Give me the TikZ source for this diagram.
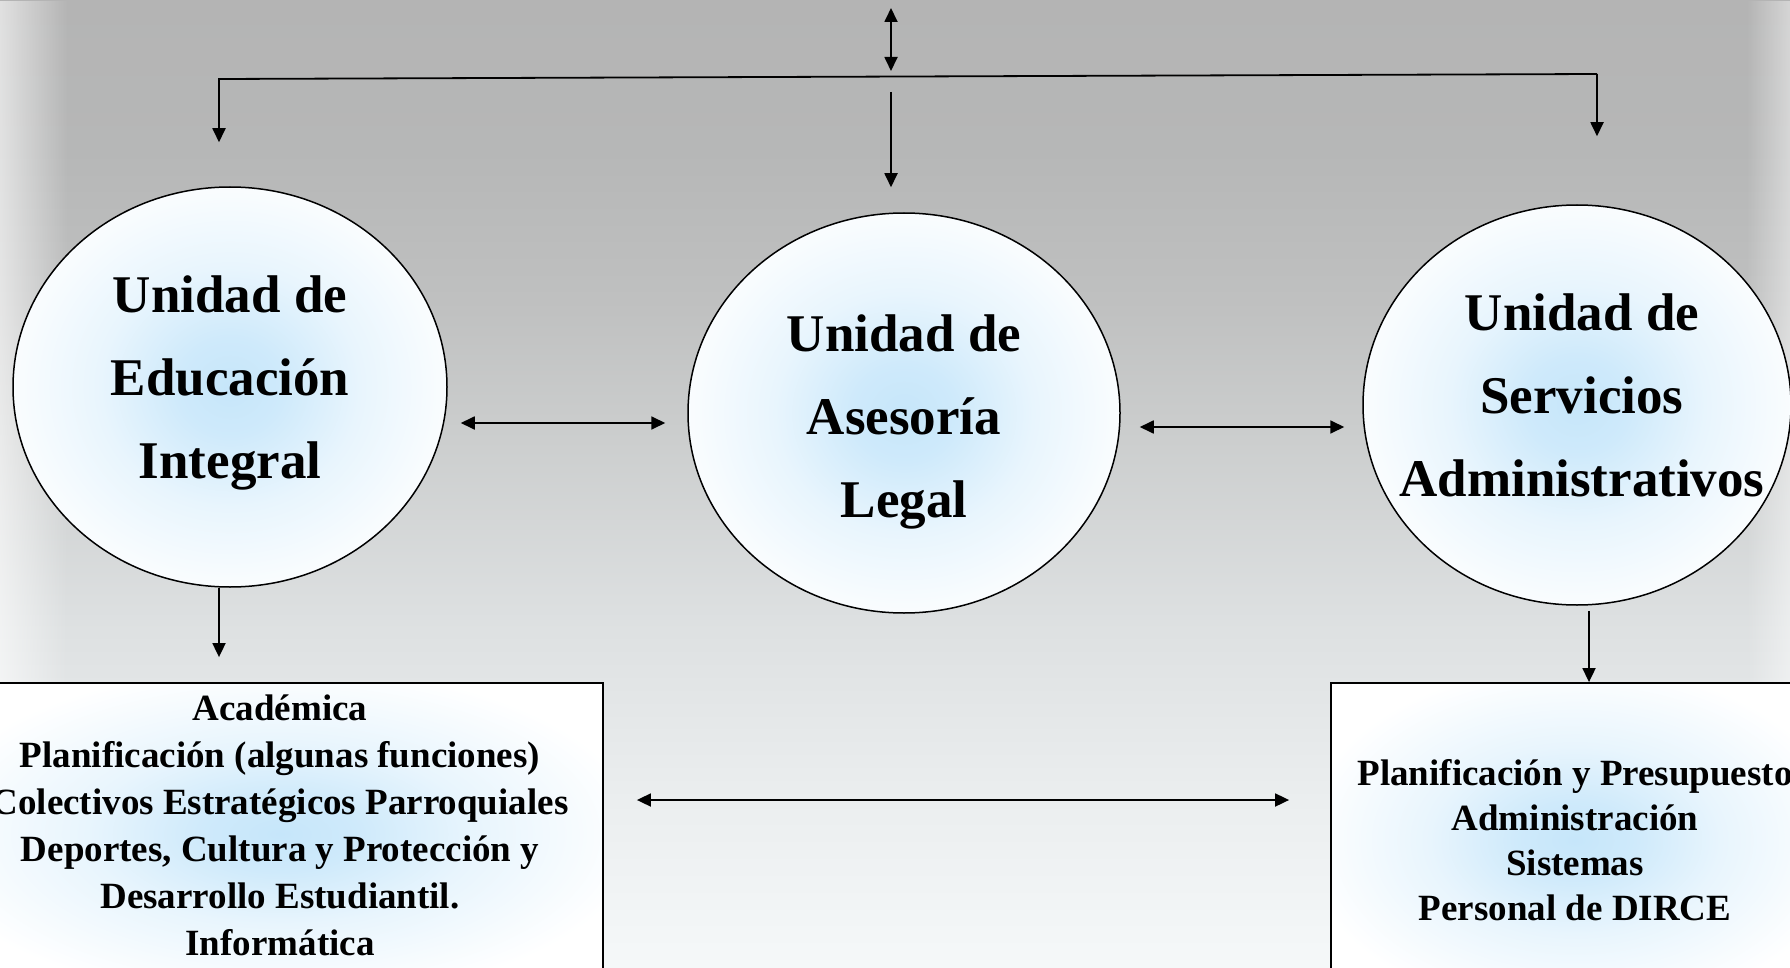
\documentclass[tikz,border=0pt]{standalone}
\usepackage{fontspec}
\setmainfont{Liberation Serif}
\usetikzlibrary{shapes.geometric,arrows.meta,fadings}
\definecolor{glow}{HTML}{C6E6FA}
\definecolor{bgA}{HTML}{B4B4B4}
\definecolor{bgB}{HTML}{B6B7B7}
\definecolor{bgC}{HTML}{BFC0C0}
\definecolor{bgD}{HTML}{CBCDCD}
\definecolor{bgE}{HTML}{DDE0E1}
\definecolor{bgF}{HTML}{EBEEEF}
\definecolor{bgG}{HTML}{F5F8F9}
\pgfdeclareverticalshading{bgshade}{100bp}{color(0bp)=(bgG); color(25bp)=(bgG); color(33.7bp)=(bgF); color(43bp)=(bgE); color(52.8bp)=(bgD); color(59.5bp)=(bgC); color(67.25bp)=(bgB); color(75bp)=(bgA); color(100bp)=(bgA)}
\pgfdeclareradialshading{glowshade}{\pgfpoint{0bp}{0bp}}{color(0bp)=(glow); color(6bp)=(glow!85!white); color(15bp)=(glow!40!white); color(28bp)=(white); color(50bp)=(white)}
\tikzset{
  unit/.style={ellipse, draw=black, line width=1.5pt, inner sep=0pt, minimum height=400pt, shade, shading=glowshade},
  unitbox/.style={rectangle, draw=black, line width=1.8pt, inner sep=0pt, shade, shading=glowshade},
  unittext/.style={align=center, inner sep=0pt, font=\fontsize{53}{83}\selectfont\bfseries},
  boxtext/.style={align=center, inner sep=0pt, font=\fontsize{37}{47}\selectfont\bfseries},
  link/.style={line width=1.8pt},
  arr/.style={link, -{Triangle[length=14pt,width=13pt]}},
  dblarr/.style={link, {Triangle[length=14pt,width=13pt]}-{Triangle[length=14pt,width=13pt]}},
}
\begin{document}
\begin{tikzpicture}[x=1pt,y=-1pt]
\useasboundingbox (0,0) rectangle (1790,968);
\clip (0,0) rectangle (1790,968);
% background
\shade[shading=bgshade] (0,0) rectangle (1790,968);
\fill[white, opacity=0.6, path fading=east] (0,0) rectangle (68,968);
\fill[white, opacity=0.45, path fading=west] (1746,0) rectangle (1790,968);
% units
\node[unit, minimum width=434pt] (E1) at (230,387) {};
\node[unit, minimum width=432pt] (E2) at (904,413) {};
\node[unit, minimum width=428pt] (E3) at (1577,405) {};
\node[unittext] (E1t) at (230,383) {Unidad de\\Educación\\Integral};
\node[unittext] (E2t) at (904,422) {Unidad de\\Asesoría\\Legal};
\node[unittext] (E3t) at (1582,395) {Unidad de\\Servicios\\Administrativos};
% boxes
\node[unitbox, minimum width=646pt, minimum height=302pt] (B1) at (280,834) {};
\node[boxtext] (B1t) at (280,825) {Académica\\Planificación (algunas funciones)\\Colectivos Estratégicos Parroquiales\\Deportes, Cultura y Protección y\\Desarrollo Estudiantil.\\Informática};
\node[unitbox, minimum width=488pt, minimum height=314pt] (B2) at (1575,840) {};
\node[boxtext, font=\fontsize{37}{45}\selectfont\bfseries] (B2t) at (1575,840) {Planificación y Presupuesto\\Administración\\Sistemas\\Personal de DIRCE};
% top connectors
\coordinate (TT) at (891,8);
\coordinate (TB) at (891,71);
\coordinate (HL) at (219,79);
\coordinate (HR) at (1597,74);
\coordinate (HM) at (891,92);
\draw[dblarr] (TT) -- (TB);
\draw[arr] (HR) -- (HL) -- ([shift={(-11,-44)}]E1.north);
\draw[arr] (HR) -- ([shift={(20,-68)}]E3.north);
\draw[arr] (HM) -- ([shift={(-13,-25)}]E2.north);
% horizontal links
\draw[dblarr] ([shift={(13,36)}]E1.east) -- ([shift={(-22,10)}]E2.west);
\draw[dblarr] ([shift={(19,14)}]E2.east) -- ([shift={(-18,22)}]E3.west);
\draw[dblarr] ([shift={(33,-34)}]B1.east) -- ([shift={(-41,-40)}]B2.west);
% down links
\draw[arr] ([xshift=-11]E1.south) -- ([shift={(-61,-25)}]B1.north);
\draw[arr] ([shift={(12,5)}]E3.south) -- ([xshift=14]B2.north);
\end{tikzpicture}
\end{document}
